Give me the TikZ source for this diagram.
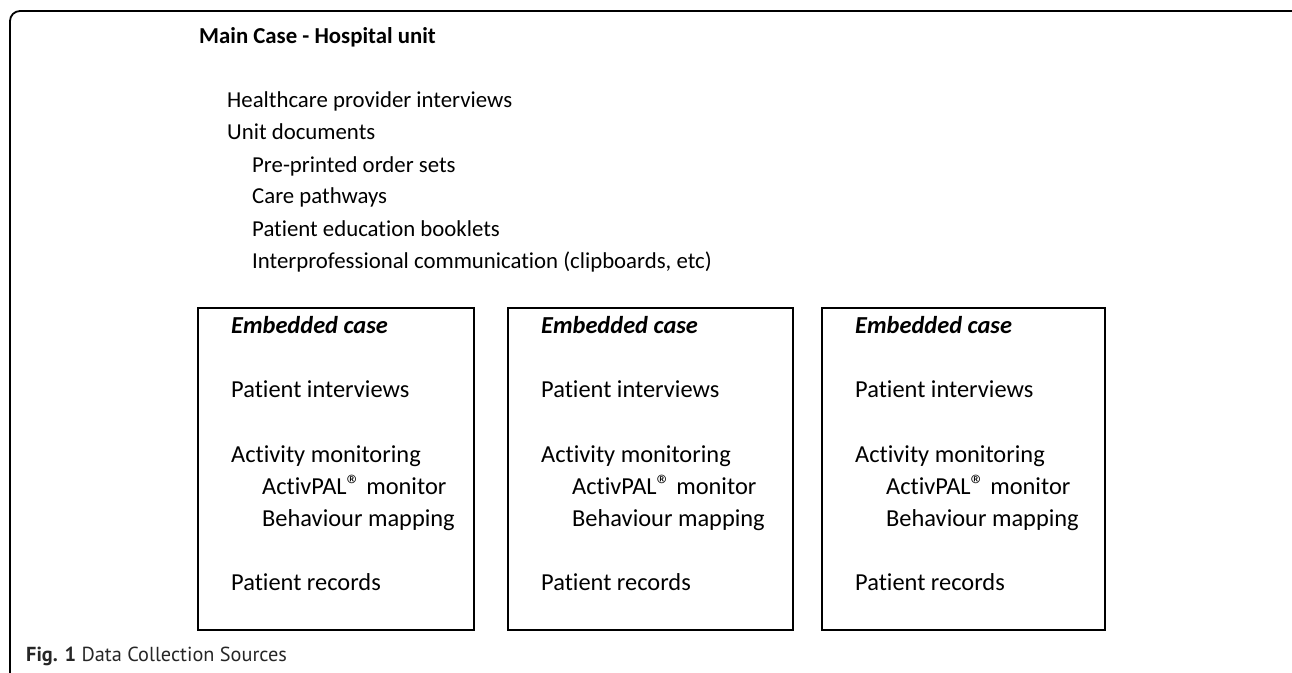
\documentclass[tikz,border=0pt]{standalone}
\usepackage{fontspec}
\setmainfont{Carlito}[Ligatures=NoCommon]
\newfontfamily\capfont{PT Sans}
\newcommand{\FS}{\fontsize{22.8}{27}\selectfont}
\newcommand{\BS}{\fontsize{24.4}{29}\selectfont}
\newcommand{\CS}{\fontsize{20.3}{24}\selectfont}
\newcommand{\reg}{\fontsize{28}{28}\selectfont ®}

\begin{document}
\begin{tikzpicture}[x=1pt,y=-1pt,
        txt/.style={anchor=base west,inner sep=0pt,font=\FS},
        btxt/.style={anchor=base west,inner sep=0pt,font=\BS},
        ebox/.style={draw,line width=2.8pt}]
        \useasboundingbox (0,0) rectangle (1292,672);
        \clip (0,0) rectangle (1292,672);

        % main case frame
        \draw [line width=1.8pt,rounded corners=10pt] (10,11) rectangle (1330,720);

        \path (199,43) node[txt,font=\FS\bfseries] (M) {Main Case - Hospital unit};
        \path (227,107) node[txt] (M1) {Healthcare provider interviews};
        \path (227,139) node[txt] (M2) {Unit documents};
        \path (252,172) node[txt] (M2-1) {Pre-printed order sets};
        \path (252,203) node[txt] (M2-2) {Care pathways};
        \path (252,236) node[txt] (M2-3) {Patient education booklets};
        \path (252,268) node[txt] (M2-4) {Interprofessional communication (clipboards, etc)};

        % embedded cases
        \foreach \X/\A/\B in {1/198/474, 2/508/793, 3/822/1105} {
            \draw [ebox] (\A,308) rectangle (\B,630);
            \path (\A+33,333) node[btxt,font=\BS\bfseries\itshape] (E\X) {Embedded case};
            \path (\A+33,397) node[btxt] (E\X-1) {Patient interviews};
            \path (\A+33,462) node[btxt] (E\X-2) {Activity monitoring};
            \path (\A+64,494) node[btxt] (E\X-3) {ActivPAL{\reg} monitor};
            \path (\A+64,526) node[btxt] (E\X-4) {Behaviour mapping};
            \path (\A+33,590) node[btxt] (E\X-5) {Patient records};
        }

        % caption
        \path (26,661) node[txt,font=\capfont\CS,text=black!85] (C) {\textbf{Fig. 1} Data Collection Sources};

    \end{tikzpicture}
\end{document}
